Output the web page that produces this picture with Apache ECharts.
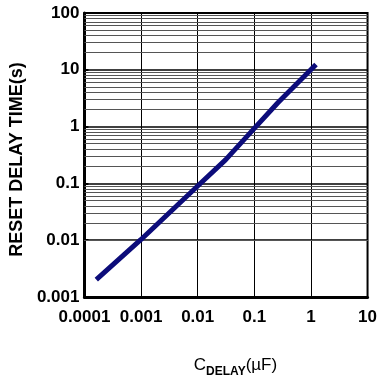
<!DOCTYPE html>
<html>
<head>
<meta charset="utf-8">
<script src="https://cdn.jsdelivr.net/npm/echarts@6/dist/echarts.min.js"></script>
<style>
  html, body { margin: 0; padding: 0; background: #fff; }
  #chart { width: 380px; height: 383px; }
</style>
</head>
<body>
<div id="chart"></div>
<script>
// C_DELAY (uF) vs reset delay time (s)
const capValues = [0.000162, 0.001, 0.01, 0.031, 0.1, 0.263, 1.23]
const delayValues = [0.00203, 0.0103, 0.09, 0.26, 0.93, 2.65, 12.4]
const yDecades = [0.001, 0.01, 0.1, 1, 10]
const minorSteps = [2, 3, 4, 5, 6, 7, 8, 9]

const chart = echarts.init(document.getElementById('chart'))

const minorLines = []
yDecades.forEach((d) => {
  minorSteps.forEach((m) => minorLines.push({ yAxis: +(d * m).toPrecision(3) }))
})

const labelFont = { color: '#000', fontSize: 17, fontWeight: 'bold', fontFamily: 'Liberation Sans' }

chart.setOption({
  animation: false,
  grid: {
    left: 83, right: 9, top: 13, bottom: 85,
    show: true, borderColor: '#000', borderWidth: 2,
  },
  xAxis: {
    type: 'log',
    min: 0.0001,
    max: 10,
    logBase: 10,
    name: '{c|C}{s|DELAY}{c|(µF)}',
    nameLocation: 'middle',
    nameGap: 60,
    nameTextStyle: {
      padding: [0, 0, 0, 19],
      rich: {
        c: { fontSize: 17, fontFamily: 'Liberation Sans', color: '#000', verticalAlign: 'bottom' },
        s: { fontSize: 12, fontWeight: 'bold', fontFamily: 'Liberation Sans', color: '#000', verticalAlign: 'bottom', padding: [0, 0, -4, 0] },
      },
    },
    axisLine: { lineStyle: { color: '#000', width: 3 } },
    axisTick: { show: false },
    axisLabel: {
      ...labelFont,
      margin: 12,
      formatter: (v) => String(+v.toPrecision(2)),
    },
    splitLine: { show: true, lineStyle: { color: '#000', width: 1 } },
  },
  yAxis: {
    type: 'log',
    min: 0.001,
    max: 100,
    logBase: 10,
    name: 'RESET DELAY TIME(s)',
    nameLocation: 'middle',
    nameGap: 57,
    nameTextStyle: { ...labelFont, fontSize: 18, padding: [0, 9, 0, 0] },
    axisLine: { lineStyle: { color: '#000', width: 3 } },
    axisTick: { show: true, inside: true, length: 4, lineStyle: { color: '#000', width: 2 } },
    axisLabel: {
      ...labelFont,
      margin: 5,
      formatter: (v) => String(+v.toPrecision(2)),
    },
    splitLine: { show: true, lineStyle: { color: '#000', width: 1.5 } },
  },
  series: [
    {
      type: 'line',
      data: capValues.map((c, i) => [c, delayValues[i]]),
      showSymbol: false,
      lineStyle: { color: '#0c0c7a', width: 5 },
      z: 5,
      markLine: {
        silent: true,
        symbol: 'none',
        label: { show: false },
        lineStyle: { color: '#555', width: 1.2, type: 'solid' },
        data: minorLines,
        z: 1,
      },
    },
  ],
})
</script>
</body>
</html>
